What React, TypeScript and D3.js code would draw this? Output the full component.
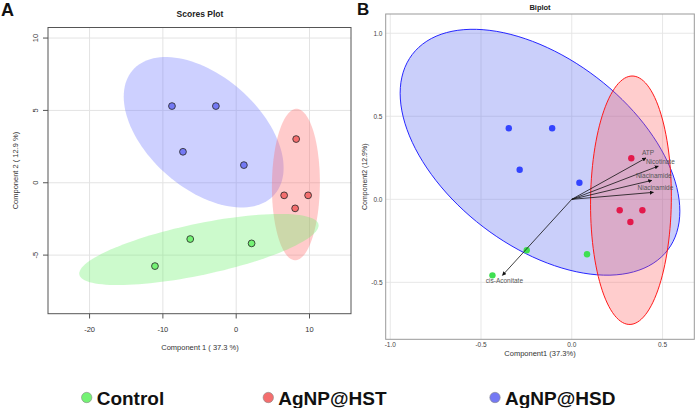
import React from "react";
import * as d3 from "d3";

// ---------- data ----------
const groups = ["Control", "AgNP@HST", "AgNP@HSD"];
const groupFill = ["#74f274", "#f46e6e", "#7479f4"];
const ellipseFillA = ["#6cf06c", "#ff6b6b", "#7077ff"];
const pointFillB = ["#3fe052", "#e3194b", "#3344ff"];
const ellipseStrokeB = ["#33cc33", "#ff1a1a", "#2626ff"];
const ellipseFillB = ["#66ee66", "#ff5a5a", "#5060f0"];

// Scores plot (panel A)
const scoresAx = [
  [-11.08, -6.27, 2.1],
  [8.18, 6.54, 9.81, 8.04],
  [-8.76, -2.77, -7.26, 1.05],
];
const scoresAy = [
  [-5.76, -3.89, -4.19],
  [3.02, -0.87, -0.87, -1.77],
  [5.3, 5.3, 2.14, 1.22],
];
const ticksAx = [-20, -10, 0, 10];
const ticksAy = [-5, 0, 5, 10];

// Biplot (panel B)
const scoresBx = [
  [-0.437, -0.248, 0.084],
  [0.328, 0.264, 0.389, 0.323],
  [-0.347, -0.108, -0.287, 0.042],
];
const scoresBy = [
  [-0.458, -0.307, -0.331],
  [0.247, -0.066, -0.066, -0.137],
  [0.428, 0.428, 0.178, 0.1],
];
const loadingNames = ["ATP", "Nicotinate", "Niacinamide", "Niacinamide", "cis-Aconitate"];
const loadingX = [0.409, 0.477, 0.441, 0.45, -0.382];
const loadingY = [0.249, 0.2, 0.114, 0.042, -0.458];
const ticksBx = [-1.0, -0.5, 0.0, 0.5];
const ticksBy = [-0.5, 0.0, 0.5, 1.0];

// confidence scaling: chi-square(2) 95% for A, F(2, n-2) 95% for B (n=4)
const CHI2_95 = 5.991;
const F_2_2_95 = 19.0;

function ellipsePoints(xs: number[], ys: number[], k2: number) {
  const n = xs.length;
  const mx = d3.mean(xs)!;
  const my = d3.mean(ys)!;
  let a = 0, b = 0, c = 0;
  for (let i = 0; i < n; i++) {
    a += (xs[i] - mx) ** 2;
    c += (ys[i] - my) ** 2;
    b += (xs[i] - mx) * (ys[i] - my);
  }
  a /= n - 1; b /= n - 1; c /= n - 1;
  const l11 = Math.sqrt(a);
  const l21 = b / l11;
  const l22 = Math.sqrt(Math.max(c - l21 * l21, 0));
  const k = Math.sqrt(k2);
  const pts: [number, number][] = [];
  for (let i = 0; i <= 120; i++) {
    const t = (i / 120) * 2 * Math.PI;
    const u = Math.cos(t), v = Math.sin(t);
    pts.push([mx + k * l11 * u, my + k * (l21 * u + l22 * v)]);
  }
  return pts;
}

export default function App() {
  // panel A scales
  const xA = d3.scaleLinear().domain([-25.67, 15.66]).range([48, 351]);
  const yA = d3.scaleLinear().domain([-9.05, 10.73]).range([313.7, 27.5]);
  // panel B scales
  const xB = d3.scaleLinear().domain([-1.025, 0.675]).range([385.7, 694.3]);
  const yB = d3.scaleLinear().domain([-0.843, 1.116]).range([339.3, 14]);

  const lineA = d3.line<[number, number]>().x((d) => xA(d[0])).y((d) => yA(d[1])).curve(d3.curveLinearClosed);
  const lineB = d3.line<[number, number]>().x((d) => xB(d[0])).y((d) => yB(d[1])).curve(d3.curveLinearClosed);

  const font = "Liberation Sans, Arial, sans-serif";
  const orderA = [2, 1, 0];
  const ellB = [2, 1];

  return (
    <svg
      width={696}
      height={408}
      style={{ position: "absolute", left: 0, top: 0, background: "#fff" }}
      fontFamily={font}
    >
      <defs>
        <marker id="arr" viewBox="0 0 10 10" refX="9" refY="5" markerWidth="5" markerHeight="5" orient="auto">
          <path d="M0,0 L10,5 L0,10 z" fill="#111" />
        </marker>
        <clipPath id="clipA">
          <rect x={48} y={27.5} width={303} height={286.2} />
        </clipPath>
        <clipPath id="clipB">
          <rect x={385.7} y={14} width={308.6} height={325.3} />
        </clipPath>
      </defs>

      {/* ---------------- Panel A ---------------- */}
      <text x={1} y={15.5} fontSize={18} fontWeight="bold" fill="#111">A</text>
      <text x={200} y={17} fontSize={8.5} fontWeight="bold" textAnchor="middle" fill="#222">Scores Plot</text>
      {ticksAx.map((t) => (
        <line key={"gax" + t} x1={xA(t)} x2={xA(t)} y1={27.5} y2={313.7} stroke="#e3e3e3" strokeWidth={1} />
      ))}
      {ticksAy.map((t) => (
        <line key={"gay" + t} x1={48} x2={351} y1={yA(t)} y2={yA(t)} stroke="#e3e3e3" strokeWidth={1} />
      ))}
      <g clipPath="url(#clipA)">
        {orderA.map((g) => (
          <path key={"ea" + g} d={lineA(ellipsePoints(scoresAx[g], scoresAy[g], CHI2_95))!} fill={ellipseFillA[g]} fillOpacity={0.35} stroke="none" />
        ))}
        {orderA.map((g) =>
          scoresAx[g].map((x, i) => (
            <circle key={"pa" + g + i} cx={xA(x)} cy={yA(scoresAy[g][i])} r={3.4} fill={groupFill[g]} stroke="#222" strokeWidth={0.8} />
          ))
        )}
      </g>
      <rect x={48} y={27.5} width={303} height={286.2} fill="none" stroke="#555" strokeWidth={1} />
      {ticksAx.map((t) => (
        <g key={"tax" + t}>
          <line x1={xA(t)} x2={xA(t)} y1={313.7} y2={318.5} stroke="#555" />
          <text x={xA(t)} y={332} fontSize={7.5} textAnchor="middle" fill="#333">{t}</text>
        </g>
      ))}
      {ticksAy.map((t) => (
        <g key={"tay" + t}>
          <line x1={43} x2={48} y1={yA(t)} y2={yA(t)} stroke="#555" />
          <text x={37.8} y={yA(t)} fontSize={7.5} textAnchor="middle" fill="#333" transform={`rotate(-90, 37.8, ${yA(t)})`}>{t}</text>
        </g>
      ))}
      <text x={200} y={349.5} fontSize={7.5} textAnchor="middle" fill="#333">Component 1 ( 37.3 %)</text>
      <text x={18.5} y={170.6} fontSize={7.5} textAnchor="middle" fill="#333" transform="rotate(-90, 18.5, 170.6)">Component 2 ( 12.9 %)</text>

      {/* ---------------- Panel B ---------------- */}
      <text x={357} y={15} fontSize={17} fontWeight="bold" fill="#111">B</text>
      <text x={540} y={10} fontSize={7.5} fontWeight="bold" textAnchor="middle" fill="#222">Biplot</text>
      {ticksBx.map((t) => (
        <line key={"gbx" + t} x1={xB(t)} x2={xB(t)} y1={14} y2={339.3} stroke="#e4e4e4" strokeWidth={0.9} />
      ))}
      {ticksBy.map((t) => (
        <line key={"gby" + t} x1={385.7} x2={694.3} y1={yB(t)} y2={yB(t)} stroke="#e4e4e4" strokeWidth={0.9} />
      ))}
      <g clipPath="url(#clipB)">
        {ellB.map((g) => (
          <path key={"eb" + g} d={lineB(ellipsePoints(scoresBx[g], scoresBy[g], F_2_2_95))!} fill={ellipseFillB[g]} fillOpacity={0.3} stroke={ellipseStrokeB[g]} strokeWidth={1} />
        ))}
        {[0, 1, 2].map((g) =>
          scoresBx[g].map((x, i) => (
            <circle key={"pb" + g + i} cx={xB(x)} cy={yB(scoresBy[g][i])} r={3.2} fill={pointFillB[g]} />
          ))
        )}
        {loadingNames.map((nm, i) => (
          <g key={"ld" + i}>
            <line x1={xB(0)} y1={yB(0)} x2={xB(loadingX[i])} y2={yB(loadingY[i])} stroke="#111" strokeWidth={0.8} markerEnd="url(#arr)" />
            <text
              x={xB(loadingX[i]) + 2}
              y={yB(loadingY[i]) + (loadingY[i] > 0 ? -2.5 : 7.5)}
              fontSize={6.5}
              textAnchor="middle"
              fill="#555"
            >
              {nm}
            </text>
          </g>
        ))}
      </g>
      <rect x={385.7} y={14} width={308.6} height={325.3} fill="none" stroke="#999" strokeWidth={1} />
      {ticksBx.map((t) => (
        <text key={"tbx" + t} x={xB(t)} y={347} fontSize={6.5} textAnchor="middle" fill="#444">{t.toFixed(1)}</text>
      ))}
      {ticksBy.map((t) => (
        <text key={"tby" + t} x={382.5} y={yB(t) + 2.3} fontSize={6.5} textAnchor="end" fill="#444">{t.toFixed(1)}</text>
      ))}
      <text x={540} y={355.5} fontSize={7.5} textAnchor="middle" fill="#333">Component1 (37.3%)</text>
      <text x={367.5} y={176.7} fontSize={7} textAnchor="middle" fill="#333" transform="rotate(-90, 367.5, 176.7)">Component2 (12.9%)</text>

      {/* ---------------- Legend ---------------- */}
      {groups.map((g, i) => {
        const cx = [86.7, 268.3, 495][i];
        return (
          <g key={"lg" + i}>
            <circle cx={cx} cy={397.5} r={5.2} fill={groupFill[i]} stroke="#888" strokeWidth={0.6} />
            <text x={cx + 10} y={404.5} fontSize={19} fontWeight="bold" fill="#111">{g}</text>
          </g>
        );
      })}
    </svg>
  );
}
